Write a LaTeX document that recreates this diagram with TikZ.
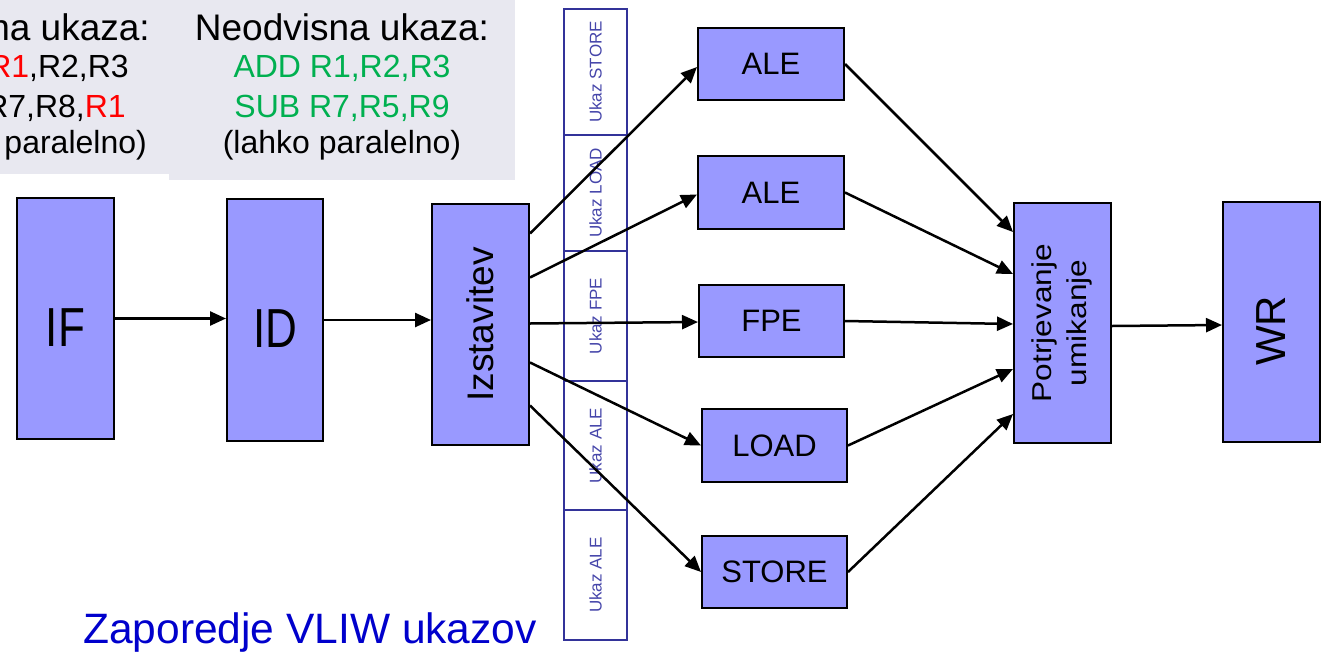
\documentclass[tikz,border=0pt]{standalone}
\usepackage{fontspec}
\setmainfont{Liberation Sans}
\usetikzlibrary{arrows.meta,calc}
\definecolor{boxfill}{HTML}{9999FF}
\definecolor{panel}{HTML}{E8E8F0}
\definecolor{colblue}{HTML}{333399}
\definecolor{txtblue}{HTML}{4646AA}
\definecolor{pgreen}{HTML}{00B050}
\definecolor{pred}{HTML}{FF0000}
\definecolor{titleblue}{HTML}{0000CC}
\begin{document}
\begin{tikzpicture}[x=1pt,y=-1pt,
  stage/.style={draw=black, line width=2pt, fill=boxfill, inner sep=0pt},
  big/.style={font=\fontsize{44}{48}\selectfont, inner sep=0pt},
  mid/.style={font=\fontsize{37}{42}\selectfont},
  norm/.style={font=\fontsize{31}{36}\selectfont},
  pnorm/.style={font=\fontsize{32}{36}\selectfont},
  bigtext/.style={label={[big,yshift=-9pt]center:#1}},
  arr/.style={-{Triangle[length=16pt,width=14pt]}, line width=2.5pt},
  cell/.style={draw=colblue, line width=2.8pt, inner sep=0pt, minimum width=63pt,
    text=txtblue, font=\fontsize{17}{20}\selectfont},
  paneltext/.style={inner sep=0pt}
]
\useasboundingbox (0,0) rectangle (1325,656);
\clip (0,0) rectangle (1325,656);

% panels
\fill[panel] (0,0) rectangle (169,174);
\fill[panel] (169,0) rectangle (515,180);

% left panel text (cut off at the left edge)
\node[paneltext, mid, anchor=base east] (l1) at (150,40) {na ukaza:};
\node[paneltext, pnorm, anchor=base east] (l2) at (129,77) {\textcolor{pred}{R1},R2,R3};
\node[paneltext, pnorm, anchor=base east] (l3) at (126,117) {R7,R8,\textcolor{pred}{R1}};
\node[paneltext, pnorm, anchor=base east] (l4) at (147,153) {paralelno)};

% right panel text
\node[paneltext, mid, anchor=base] (r1) at (342,40) {Neodvisna ukaza:};
\node[paneltext, pnorm, anchor=base, text=pgreen] (r2) at (342,77) {ADD R1,R2,R3};
\node[paneltext, pnorm, anchor=base, text=pgreen] (r3) at (342,117) {SUB R7,R5,R9};
\node[paneltext, pnorm, anchor=base] (r4) at (342,153) {(lahko paralelno)};

% VLIW column
\node[cell, minimum height=126pt] (c1) at (595.5,72) {\rotatebox{90}{Ukaz STORE}};
\node[cell, minimum height=116pt] (c2) at (595.5,193) {\rotatebox{90}{Ukaz LOAD}};
\node[cell, minimum height=130pt] (c3) at (595.5,316) {\rotatebox{90}{Ukaz FPE}};
\node[cell, minimum height=129pt] (c4) at (595.5,445.5) {\rotatebox{90}{Ukaz ALE}};
\node[cell, minimum height=130pt] (c5) at (595.5,575) {\rotatebox{90}{Ukaz ALE}};

% stages
\node[stage, minimum width=97pt, minimum height=241pt,
  bigtext={\scalebox{1}[1.25]{IF}}] (if) at (65.5,318.5) {};
\node[stage, minimum width=96pt, minimum height=242pt,
  bigtext={\scalebox{1}[1.25]{ID}}] (id) at (275,320) {};
\node[stage, mid, minimum width=97pt, minimum height=241pt] (izst) at (480.5,324.5) {\rotatebox{90}{Izstavitev}};
\node[stage, norm, minimum width=146pt, minimum height=72pt] (ale1) at (771,64) {ALE};
\node[stage, norm, minimum width=146pt, minimum height=73pt] (ale2) at (771,192.5) {ALE};
\node[stage, norm, minimum width=145pt, minimum height=72pt] (fpe) at (771.5,321) {FPE};
\node[stage, norm, minimum width=145pt, minimum height=73pt] (load) at (774.5,445.5) {LOAD};
\node[stage, norm, minimum width=145pt, minimum height=72pt] (store) at (774.5,572) {STORE};
\node[stage, norm, minimum width=97pt, minimum height=240pt] (potr) at (1062.5,323)
  {\rotatebox{90}{\scalebox{1.02}[0.88]{\begin{tabular}{@{}c@{}}Potrjevanje\\[4pt]umikanje\end{tabular}}}};
\node[stage, minimum width=97pt, minimum height=240pt,
  bigtext={\fontsize{42}{46}\selectfont\rotatebox{90}{WR}}] (wr) at (1271.5,322) {};

% title
\node[inner sep=0pt, anchor=base west, text=titleblue, font=\fontsize{42.5}{46}\selectfont] (title) at (83,643) {Zaporedje VLIW ukazov};

% connectors
\draw[arr] (if.east) -- (if.east -| id.west);
\draw[arr] (id.east) -- (id.east -| izst.west);
\draw[arr] ([yshift=91pt]izst.east) -- ([yshift=-3pt]ale1.west);
\draw[arr] ([yshift=47pt]izst.east) -- ([yshift=-2pt]ale2.west);
\draw[arr] ([yshift=1pt]izst.east) -- ([yshift=-1pt]fpe.west);
\draw[arr] ([yshift=-38pt]izst.east) -- (load.west);
\draw[arr] ([yshift=-81pt]izst.east) -- (store.west);
\draw[arr] (ale1.east) -- ([yshift=91pt]potr.west);
\draw[arr] (ale2.east) -- ([yshift=49pt]potr.west);
\draw[arr] (fpe.east) -- ([yshift=-1pt]potr.west);
\draw[arr] (load.east) -- ([yshift=-46pt]potr.west);
\draw[arr] (store.east) -- ([yshift=-91pt]potr.west);
\draw[arr] ([yshift=-3pt]potr.east) -- ([yshift=-3pt]wr.west);
\end{tikzpicture}
\end{document}
